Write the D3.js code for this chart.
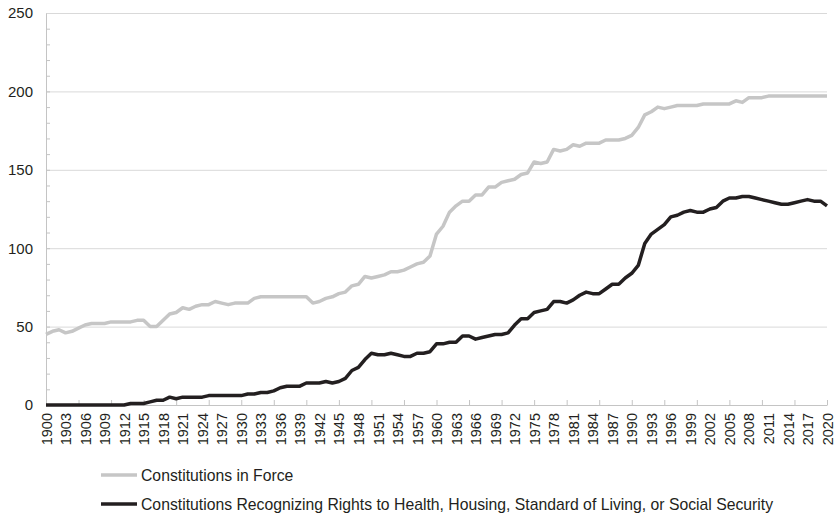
<!DOCTYPE html>
<html>
<head>
<meta charset="utf-8">
<script src="https://cdn.jsdelivr.net/npm/d3@7"></script>
<style>
  body { margin: 0; background: #fff; }
  svg { font-family: "Liberation Sans", Arial, sans-serif; }
</style>
</head>
<body>
<div class="chart"></div>
<script>
// years 1900..2020
const years = d3.range(1900, 2021);

// Constitutions in force
const inForce = [
  45, 47, 48, 46, 47, 49, 51, 52, 52, 52,
  53, 53, 53, 53, 54, 54, 50, 50, 54, 58,
  59, 62, 61, 63, 64, 64, 66, 65, 64, 65,
  65, 65, 68, 69, 69, 69, 69, 69, 69, 69,
  69, 65, 66, 68, 69, 71, 72, 76, 77, 82,
  81, 82, 83, 85, 85, 86, 88, 90, 91, 95,
  109, 114, 123, 127, 130, 130, 134, 134, 139, 139,
  142, 143, 144, 147, 148, 155, 154, 155, 163, 162,
  163, 166, 165, 167, 167, 167, 169, 169, 169, 170,
  172, 177, 185, 187, 190, 189, 190, 191, 191, 191,
  191, 192, 192, 192, 192, 192, 194, 193, 196, 196,
  196, 197, 197, 197, 197, 197, 197, 197, 197, 197,
  197
];

// Constitutions recognizing rights to health, housing, etc.
const recognizing = [
  0, 0, 0, 0, 0, 0, 0, 0, 0, 0,
  0, 0, 0, 1, 1, 1, 2, 3, 3, 5,
  4, 5, 5, 5, 5, 6, 6, 6, 6, 6,
  6, 7, 7, 8, 8, 9, 11, 12, 12, 12,
  14, 14, 14, 15, 14, 15, 17, 22, 24, 29,
  33, 32, 32, 33, 32, 31, 31, 33, 33, 34,
  39, 39, 40, 40, 44, 44, 42, 43, 44, 45,
  45, 46, 51, 55, 55, 59, 60, 61, 66, 66,
  65, 67, 70, 72, 71, 71, 74, 77, 77, 81,
  84, 89, 103, 109, 112, 115, 120, 121, 123, 124,
  123, 123, 125, 126, 130, 132, 132, 133, 133, 132,
  131, 130, 129, 128, 128, 129, 130, 131, 130, 130,
  127
];

const seriesNames = [
  "Constitutions in Force",
  "Constitutions Recognizing Rights to Health, Housing, Standard of Living, or Social Security"
];
const seriesColors = ["#c6c6c6", "#231f20"];

const yTicks = [0, 50, 100, 150, 200, 250];

const width = 836, height = 517;
const plotLeft = 46, plotRight = 827, plotTop = 13, plotBottom = 405;

const svg = d3.select(".chart").append("svg")
  .attr("width", width)
  .attr("height", height);

const x = d3.scaleLinear().domain([1900, 2020]).range([plotLeft, plotRight]);
const y = d3.scaleLinear().domain([0, 250]).range([plotBottom, plotTop]);

// gridlines
svg.append("g")
  .attr("transform", `translate(${plotLeft},0)`)
  .call(d3.axisLeft(y).tickValues(yTicks.filter(d => d > 0)).tickSize(-(plotRight - plotLeft)).tickFormat(""))
  .call(g => g.select(".domain").remove())
  .selectAll("line").attr("stroke", "#d9d9d9");

// minor ticks on y axis
svg.append("g")
  .attr("transform", `translate(${plotLeft},0)`)
  .call(d3.axisLeft(y).tickValues(d3.range(10, 250, 10)).tickSizeInner(-4).tickSizeOuter(0).tickFormat(""))
  .call(g => g.select(".domain").attr("stroke", "#c4c4c4"))
  .selectAll("line").attr("stroke", "#c4c4c4");

// y labels
svg.append("g")
  .attr("transform", `translate(${plotLeft},0)`)
  .call(d3.axisLeft(y).tickValues(yTicks).tickSize(0).tickPadding(13))
  .call(g => g.select(".domain").remove())
  .selectAll("text")
  .attr("font-size", "15px")
  .attr("fill", "#231f20");

// x axis with ticks every 5 years
svg.append("g")
  .attr("transform", `translate(0,${plotBottom})`)
  .call(d3.axisBottom(x).tickValues(d3.range(1905, 2021, 5)).tickSizeInner(-5).tickSizeOuter(0).tickFormat(""))
  .call(g => g.select(".domain").attr("stroke", "#c4c4c4"))
  .selectAll("line").attr("stroke", "#c4c4c4");

// x labels every 3 years
svg.append("g")
  .attr("transform", `translate(0,${plotBottom})`)
  .call(d3.axisBottom(x).tickValues(d3.range(1900, 2021, 3)).tickSize(0).tickFormat(d3.format("d")))
  .call(g => g.select(".domain").remove())
  .selectAll("text")
  .attr("font-size", "14.5px")
  .attr("fill", "#231f20")
  .attr("transform", "rotate(-90)")
  .attr("x", -8)
  .attr("y", 0)
  .attr("dy", "0.35em")
  .style("text-anchor", "end");

// lines
const line = d3.line()
  .x((d, i) => x(years[i]))
  .y(d => y(d));

[inForce, recognizing].forEach((vals, k) => {
  svg.append("path")
    .datum(vals)
    .attr("fill", "none")
    .attr("stroke", seriesColors[k])
    .attr("stroke-width", 3.5)
    .attr("stroke-linejoin", "round")
    .attr("d", line);
});

// legend
const legend = svg.append("g");
seriesNames.forEach((name, k) => {
  const ly = 475 + k * 29;
  legend.append("line")
    .attr("x1", 101).attr("x2", 137)
    .attr("y1", ly).attr("y2", ly)
    .attr("stroke", seriesColors[k])
    .attr("stroke-width", 3.5);
  legend.append("text")
    .attr("x", 141)
    .attr("y", ly + 5.5)
    .attr("font-size", "15.75px")
    .attr("fill", "#231f20")
    .text(name);
});
</script>
</body>
</html>
